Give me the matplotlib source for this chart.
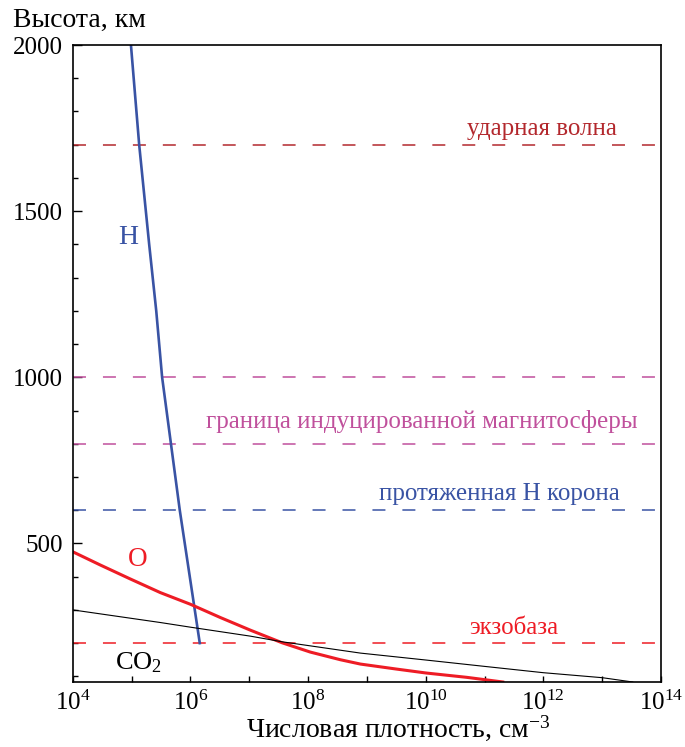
import matplotlib
matplotlib.use("Agg")
import matplotlib.pyplot as plt
from matplotlib.ticker import FixedLocator, MultipleLocator

plt.rcParams['font.family'] = ['Liberation Serif', 'DejaVu Serif']
plt.rcParams['mathtext.fontset'] = 'custom'
plt.rcParams['mathtext.rm'] = 'Liberation Serif'
plt.rcParams['mathtext.it'] = 'Liberation Serif:italic'

# профили плотности (log10 n, высота км)
h_logn = [4.99, 5.13, 5.30, 5.42, 5.52, 5.67, 5.82, 5.99, 6.16]
h_alt = [2000, 1700, 1400, 1200, 1000, 800, 600, 400, 200]

o_logn = [4.0, 4.47, 4.98, 5.49, 6.0, 6.51, 7.02, 7.56, 8.04, 8.55, 8.89, 9.5, 10.01, 10.7, 11.31]
o_alt = [475, 435, 393, 352, 317, 277, 239, 201, 173, 150, 137, 122, 110, 97, 83]

co2_logn = [4.0, 5.49, 6.0, 7.02, 7.56, 8.89, 10.01, 11.0, 12.0, 13.0, 13.52]
co2_alt = [300, 262, 248, 221, 204, 170, 149, 130, 111, 96, 83]

# горизонтальные уровни
levels = [1700, 1000, 800, 600, 200]
level_colors = ['#b3282d', '#c0509c', '#c0509c', '#3953a4', '#ee1c25']
level_names = ['ударная волна', None, 'граница индуцированной магнитосферы',
               'протяженная H корона', 'экзобаза']
name_px = [542, None, 421.5, 499, 513.5]
name_alt = [1729, None, 848, 631, 227]

xticks = [1e4, 1e5, 1e6, 1e7, 1e8, 1e9, 1e10, 1e11, 1e12, 1e13, 1e14]

fig = plt.figure(figsize=(6.85, 7.47), dpi=100)
ax = fig.add_axes([72.7/685, 65/747, (661-72.7)/685, (682-45)/747])

for y, c in zip(levels, level_colors):
    ax.axhline(y, color=c, lw=1.1, linestyle=(0, (8.5, 11.1)))

ax.plot([10**v for v in h_logn], h_alt, color='#3953a4', lw=1.9)
ax.plot([10**v for v in o_logn], o_alt, color='#ee1c25', lw=2.2)
ax.plot([10**v for v in co2_logn], co2_alt, color='black', lw=0.8)

ax.set_xscale('log')
ax.set_xlim(1e4, 1e14)
ax.set_ylim(83, 2000)

ax.xaxis.set_major_locator(FixedLocator(xticks))
ax.xaxis.set_minor_locator(FixedLocator([]))
ax.set_xticklabels([r'$10^{%d}$' % i if i % 2 == 0 else '' for i in range(4, 15)])
ax.yaxis.set_major_locator(FixedLocator([500, 1000, 1500, 2000]))
ax.yaxis.set_minor_locator(MultipleLocator(100))
ax.tick_params(axis='x', which='major', direction='in', length=4, width=1, labelsize=18, pad=6)
ax.tick_params(axis='y', which='major', direction='in', length=6.5, width=1, labelsize=18, pad=7)
ax.tick_params(axis='y', which='minor', direction='in', length=3.6, width=1)
for s in ax.spines.values():
    s.set_linewidth(1.2)

# подписи уровней
for c, name, px, alt in zip(level_colors, level_names, name_px, name_alt):
    if name is None:
        continue
    ax.text((px - 72.7) / (661 - 72.7), alt, name, transform=ax.get_yaxis_transform(),
            color=c, fontsize=18, ha='center', va='baseline')

ax.text(10**4.95, 1420, 'H', color='#3953a4', fontsize=20, ha='center', va='center')
ax.text(10**5.10, 452, 'O', color='#ee1c25', fontsize=19.5, ha='center', va='center')
ax.text(10**4.72, 122, r'CO$_2$', color='black', fontsize=19, ha='left', va='baseline')

fig.text(13/685, 1 - 20/747, 'Высота, км', fontsize=20, ha='left', va='center')
fig.text(398/685, 1 - 728/747, 'Числовая плотность, см$^{-3}$', fontsize=20,
         ha='center', va='center')

fig.savefig('out.png', dpi=100)
